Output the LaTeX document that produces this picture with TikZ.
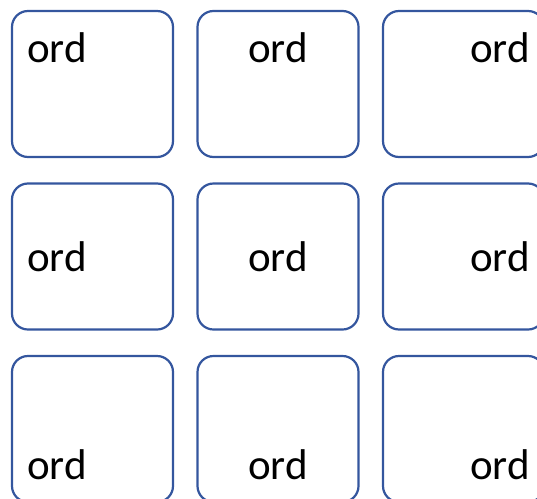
\documentclass[tikz,border=0pt]{standalone}
\usepackage{fontspec}
\setmainfont{Carlito}
\usepackage{tikz}
\usetikzlibrary{positioning}
\definecolor{cellblue}{RGB}{52,86,158}

\begin{document}
\begin{tikzpicture}[
    node distance=26.5pt and 24.5pt,
    cell/.style={draw=cellblue, line width=2.2pt, rounded corners=16pt, minimum width=161pt, minimum height=146pt, outer sep=0pt, inner sep=0pt},
    lbl/.style={inner sep=0pt, font=\fontsize{43}{50}\selectfont}
]
\useasboundingbox (0,0) rectangle (537pt,-498pt);

% --- Top row ---
\node[cell] (c11) at (92.5pt,-84pt) {};
\node[cell, right=of c11] (c12) {};
\node[cell, right=of c12] (c13) {};

% --- Middle row ---
\node[cell, below=of c11] (c21) {};
\node[cell, right=of c21] (c22) {};
\node[cell, right=of c22] (c23) {};

% --- Bottom row ---
\node[cell, below=of c21] (c31) {};
\node[cell, right=of c31] (c32) {};
\node[cell, right=of c32] (c33) {};

% --- Labels ---
\node[lbl, anchor=north west] (t11) at ([xshift=15pt,yshift=-21pt]c11.north west) {ord};
\node[lbl, anchor=north] (t12) at ([yshift=-21pt]c12.north) {ord};
\node[lbl, anchor=north east] (t13) at ([xshift=-14pt,yshift=-21pt]c13.north east) {ord};
\node[lbl, anchor=west] (t21) at ([xshift=15pt]c21.west) {ord};
\node[lbl] (t22) at (c22.center) {ord};
\node[lbl, anchor=east] (t23) at ([xshift=-14pt]c23.east) {ord};
\node[lbl, anchor=base west] (t31) at ([xshift=15pt,yshift=23pt]c31.south west) {ord};
\node[lbl, anchor=base] (t32) at ([yshift=23pt]c32.south) {ord};
\node[lbl, anchor=base east] (t33) at ([xshift=-14pt,yshift=23pt]c33.south east) {ord};
\end{tikzpicture}
\end{document}
